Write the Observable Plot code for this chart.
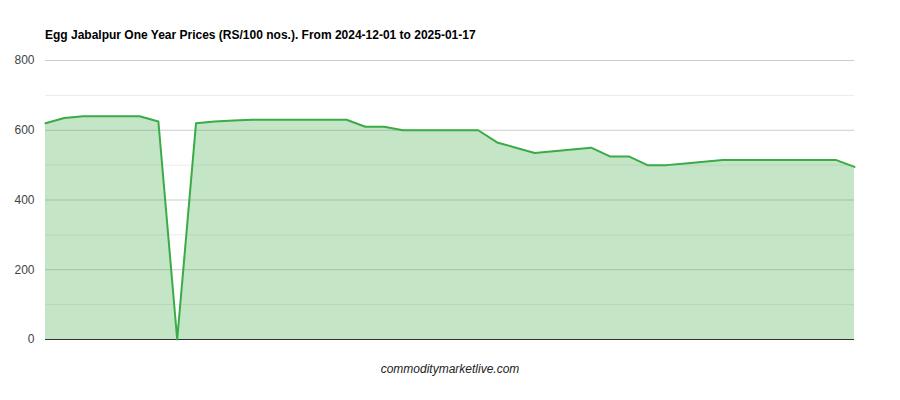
<!DOCTYPE html>
<html>
<head>
<meta charset="utf-8">
<script src="https://cdn.jsdelivr.net/npm/d3@7"></script>
<script src="https://cdn.jsdelivr.net/npm/@observablehq/plot@0.6"></script>
<style>
  body { margin: 0; background: #fff; font-family: Arial, "Liberation Sans", sans-serif; }
  #wrap { position: relative; width: 900px; height: 400px; }
  #title { position: absolute; left: 45px; top: 28px; font-size: 12px; font-weight: bold; color: #000; line-height: 14px; white-space: nowrap; }
  #chart { position: absolute; left: 0; top: 50px; }
  #caption { position: absolute; left: 0; width: 900px; top: 362px; text-align: center; font-size: 12px; font-style: italic; color: #222; line-height: 14px; }
</style>
</head>
<body>
<div id="wrap">
  <div id="title">Egg Jabalpur One Year Prices (RS/100 nos.). From 2024-12-01 to 2025-01-17</div>
  <div id="chart"></div>
  <div id="caption">commodity​marketlive.com</div>
</div>
<script>
const prices = [620, 635, 640, 640, 640, 640, 625, 0, 620, 625, 628, 630, 630, 630, 630, 630, 630,
  610, 610, 600, 600, 600, 600, 600, 565, 550, 535, 540, 545, 550, 525, 525, 500, 500, 505, 510,
  515, 515, 515, 515, 515, 515, 515, 495];
const majorTicks = [0, 200, 400, 600, 800];
const minorTicks = [100, 300, 500, 700];

const data = prices.map((v, i) => ({i, v}));

const chart = Plot.plot({
  width: 900,
  height: 300,
  marginLeft: 45,
  marginRight: 46,
  marginTop: 10,
  marginBottom: 11,
  style: {fontFamily: "Arial, 'Liberation Sans', sans-serif", fontSize: "12px", background: "transparent"},
  x: {domain: [0, prices.length - 1], axis: null},
  y: {domain: [0, 800], ticks: majorTicks, tickSize: 0, tickPadding: 11, label: null},
  marks: [
    Plot.ruleY(minorTicks, {stroke: "#ebebeb", strokeWidth: 1}),
    Plot.ruleY(majorTicks.slice(1), {stroke: "#cccccc", strokeWidth: 1}),
    Plot.areaY(data, {x: "i", y: "v", fill: "#3aab47", fillOpacity: 0.3}),
    Plot.ruleY([0], {stroke: "#333333", strokeWidth: 1}),
    Plot.lineY(data, {x: "i", y: "v", stroke: "#3aab47", strokeWidth: 2}),
    Plot.axisY({ticks: majorTicks, tickSize: 0, tickPadding: 11, label: null, fill: "#444", fontSize: 12})
  ]
});
document.getElementById("chart").appendChild(chart);
</script>
</body>
</html>
